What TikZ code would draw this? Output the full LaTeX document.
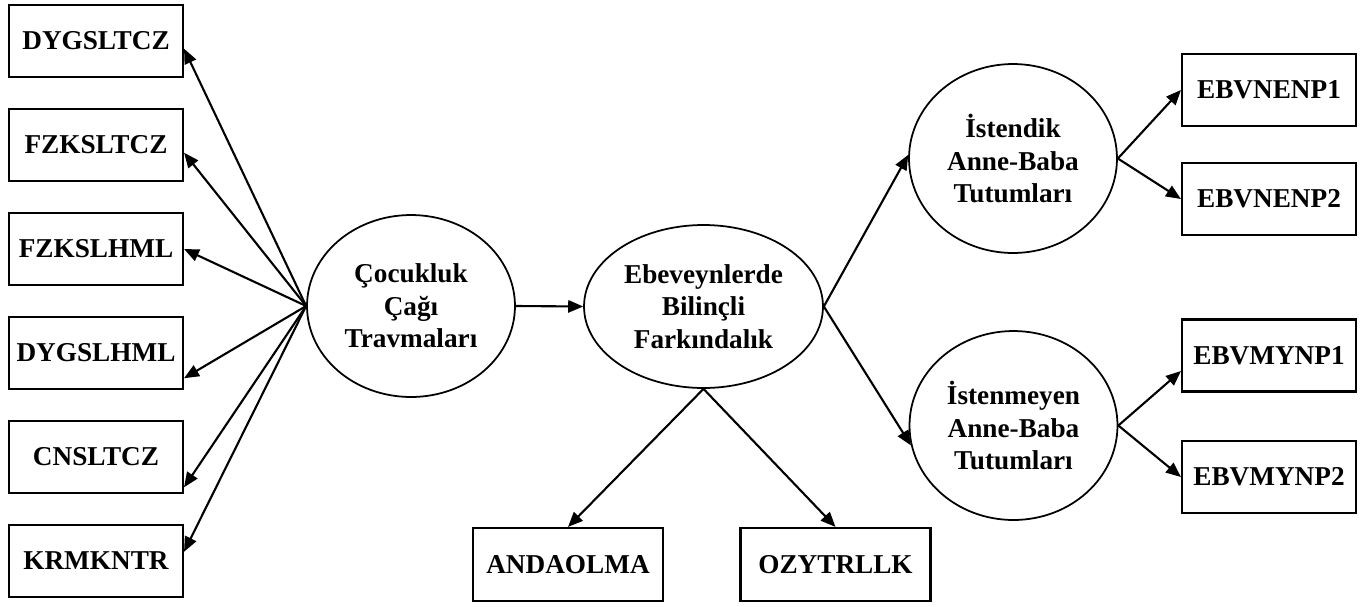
\documentclass[tikz,border=0pt]{standalone}
\usepackage{fontspec}
\setmainfont{Liberation Serif}
\usetikzlibrary{arrows.meta,shapes.geometric}

\begin{document}
\begin{tikzpicture}[x=0.02cm,y=-0.02cm,
    obsbox/.style={draw,line width=1.2pt,minimum width=3.48cm,minimum height=1.44cm,inner sep=0pt,font=\fontsize{15.5}{18}\selectfont\bfseries},
    latent/.style={draw,ellipse,line width=1pt,inner sep=0pt,align=center,font=\fontsize{15.5}{18.4}\selectfont\bfseries},
    path/.style={-{Triangle[length=8.5pt,width=7pt]},line width=1.2pt}]
  \useasboundingbox (0,0) rectangle (1367,606);
  % left indicators
  \foreach \i/\name in {1/DYGSLTCZ,2/FZKSLTCZ,3/FZKSLHML,4/DYGSLHML,5/CNSLTCZ,6/KRMKNTR}
    \node[obsbox] (l\i) at (96,{41+104*(\i-1)}) {\name};
  \node[latent,minimum width=4.16cm,minimum height=3.64cm] (cct) at (411,306) {Çocukluk\\Çağı\\Travmaları};
  \node[latent,minimum width=4.78cm,minimum height=3.26cm] (ebf) at (703.5,306.5) {Ebeveynlerde\\Bilinçli\\Farkındalık};
  \node[latent,minimum width=4.16cm,minimum height=3.78cm] (ist) at (1013,158.5) {İstendik\\Anne-Baba\\Tutumları};
  \node[latent,minimum width=4.16cm,minimum height=3.78cm] (inm) at (1013.5,425.5) {İstenmeyen\\Anne-Baba\\Tutumları};
  % bottom and right indicators
  \node[obsbox,minimum width=3.8cm,minimum height=1.46cm] (and) at (568,564.5) {ANDAOLMA};
  \node[obsbox,minimum width=3.8cm,minimum height=1.46cm] (ozy) at (835.5,564.5) {OZYTRLLK};
  \node[obsbox] (r1) at (1269,90) {EBVNENP1};
  \node[obsbox] (r2) at (1269,199) {EBVNENP2};
  \node[obsbox] (r3) at (1269,355.5) {EBVMYNP1};
  \node[obsbox] (r4) at (1269,477) {EBVMYNP2};
  % paths
  \foreach \i/\a in {1/-5,2/-5,3/0,4/-16,5/-19,6/6}
    \draw[path] (cct.west) -- (l\i.\a);
  \draw[path] (cct.east) -- (ebf.west);
  \draw[path] (ebf.east) -- (ist.178);
  \draw[path] (ebf.east) -- (inm.191);
  \draw[path] (ebf.south) -- (and.north);
  \draw[path] (ebf.south) -- (ozy.north);
  \draw[path] (ist.east) -- (r1.west);
  \draw[path] (ist.east) -- (r2.west);
  \draw[path] (inm.east) -- (r3.190);
  \draw[path] (inm.east) -- (r4.west);
\end{tikzpicture}
\end{document}
